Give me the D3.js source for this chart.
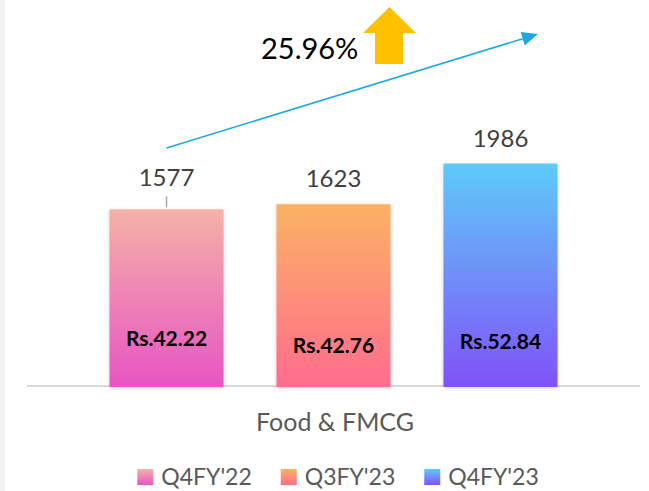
<!DOCTYPE html>
<html>
<head>
<meta charset="utf-8">
<script src="https://cdnjs.cloudflare.com/ajax/libs/d3/7.8.5/d3.min.js"></script>
<style>
  html, body { margin: 0; padding: 0; background: #fff; }
  svg { display: block; font-family: Lato, "Open Sans", sans-serif; }
</style>
</head>
<body>
<div id="chart"></div>
<script>
var category = "Food & FMCG";
var seriesNames = ["Q4FY'22", "Q3FY'23", "Q4FY'23"];
var values = [1577, 1623, 1986];
var priceLabels = ["Rs.42.22", "Rs.42.76", "Rs.52.84"];
var growthLabel = "25.96%";
var gradTop = ["#f4b2a6", "#fbb264", "#5ecbf8"];
var gradBottom = ["#e854c4", "#ff6c8e", "#8052f8"];

var width = 649, height = 491;
var baseY = 386;

var svg = d3.select('#chart')
    .append('svg')
    .attr('width', width)
    .attr('height', height);

// faint strip on the left edge
svg.append('rect')
    .attr('x', 0).attr('y', 0)
    .attr('width', 5).attr('height', height)
    .attr('fill', '#f2f2f2');

var defs = svg.append('defs');
seriesNames.forEach(function (s, i) {
    var g = defs.append('linearGradient')
        .attr('id', 'grad' + i)
        .attr('x1', 0).attr('y1', 0).attr('x2', 0).attr('y2', 1);
    g.append('stop').attr('offset', '0%').attr('stop-color', gradTop[i]);
    g.append('stop').attr('offset', '100%').attr('stop-color', gradBottom[i]);
});
var shadow = defs.append('filter')
    .attr('id', 'soft')
    .attr('x', '-20%').attr('y', '-20%')
    .attr('width', '140%').attr('height', '140%');
shadow.append('feDropShadow')
    .attr('dx', 0).attr('dy', 1)
    .attr('stdDeviation', 2)
    .attr('flood-color', '#888')
    .attr('flood-opacity', 0.35);

var xScale = d3.scaleBand()
    .domain(seriesNames)
    .range([27, 640])
    .paddingInner(0.317)
    .paddingOuter(0.494);

var yScale = d3.scaleLinear()
    .domain([0, 2000])
    .range([baseY, 162]);

// category axis line
svg.append('line')
    .attr('x1', 27).attr('x2', 640)
    .attr('y1', baseY).attr('y2', baseY)
    .attr('stroke', '#d9d9d9')
    .attr('stroke-width', 2);

var bars = svg.append('g').selectAll('.bar')
    .data(values)
    .enter().append('rect')
    .attr('class', 'bar')
    .attr('x', function (d, i) { return xScale(seriesNames[i]); })
    .attr('y', function (d) { return yScale(d); })
    .attr('width', xScale.bandwidth())
    .attr('height', function (d) { return baseY - yScale(d) + 1; })
    .attr('fill', function (d, i) { return 'url(#grad' + i + ')'; })
    .attr('filter', 'url(#soft)');

function cx(i) { return xScale(seriesNames[i]) + xScale.bandwidth() / 2; }

// value labels above the bars (first one lifted with a leader line)
svg.append('g').selectAll('.val')
    .data(values)
    .enter().append('text')
    .attr('class', 'val')
    .attr('x', function (d, i) { return cx(i); })
    .attr('y', function (d, i) { return i === 0 ? yScale(d) - 23 : yScale(d) - 17; })
    .attr('text-anchor', 'middle')
    .attr('font-size', 24)
    .attr('fill', '#404040')
    .text(function (d) { return d; });

svg.append('line')
    .attr('x1', cx(0)).attr('x2', cx(0))
    .attr('y1', yScale(values[0]) - 13).attr('y2', yScale(values[0]) - 2)
    .attr('stroke', '#a6a6a6')
    .attr('stroke-width', 1.5);

// price labels inside the bars
svg.append('g').selectAll('.price')
    .data(priceLabels)
    .enter().append('text')
    .attr('class', 'price')
    .attr('x', function (d, i) { return cx(i); })
    .attr('y', function (d, i) { return [346, 353, 349][i]; })
    .attr('text-anchor', 'middle')
    .attr('font-size', 21)
    .attr('font-weight', 'bold')
    .attr('fill', '#000')
    .text(function (d) { return d; });

// category label
svg.append('text')
    .attr('x', 335)
    .attr('y', 431)
    .attr('text-anchor', 'middle')
    .attr('font-size', 25)
    .attr('fill', '#595959')
    .text(category);

// growth annotation: blue trend arrow
var ax0 = cx(0), ay0 = 148, ax1 = 538, ay1 = 34;
var ang = Math.atan2(ay1 - ay0, ax1 - ax0);
var headLen = 16, headW = 7;
svg.append('line')
    .attr('x1', ax0).attr('y1', ay0)
    .attr('x2', ax1 - headLen * Math.cos(ang)).attr('y2', ay1 - headLen * Math.sin(ang))
    .attr('stroke', '#1ea7e1')
    .attr('stroke-width', 1.5);
var bx = ax1 - headLen * Math.cos(ang), by = ay1 - headLen * Math.sin(ang);
svg.append('path')
    .attr('d', 'M' + ax1 + ',' + ay1 +
        'L' + (bx + headW * Math.sin(ang)) + ',' + (by - headW * Math.cos(ang)) +
        'L' + (bx - headW * Math.sin(ang)) + ',' + (by + headW * Math.cos(ang)) + 'Z')
    .attr('fill', '#1ea7e1');

// big orange up arrow
svg.append('path')
    .attr('d', 'M363,33 L389.5,7 L416,33 L403,33 L403,64 L375,64 L375,33 Z')
    .attr('fill', '#ffc000');

svg.append('text')
    .attr('x', 261)
    .attr('y', 59)
    .attr('font-size', 29)
    .attr('fill', '#000')
    .text(growthLabel);

// legend
var legend = svg.append('g');
var lx = 0;
seriesNames.forEach(function (s, i) {
    var item = legend.append('g').attr('transform', 'translate(' + lx + ',0)');
    item.append('rect')
        .attr('x', 0).attr('y', 469)
        .attr('width', 16).attr('height', 16)
        .attr('fill', 'url(#grad' + i + ')');
    var t = item.append('text')
        .attr('x', 24).attr('y', 485)
        .attr('font-size', 23)
        .attr('fill', '#595959')
        .text(s);
    lx += 24 + t.node().getComputedTextLength() + 29;
});
var legW = lx - 29;
legend.attr('transform', 'translate(' + (338 - legW / 2) + ',0)');
</script>
</body>
</html>
